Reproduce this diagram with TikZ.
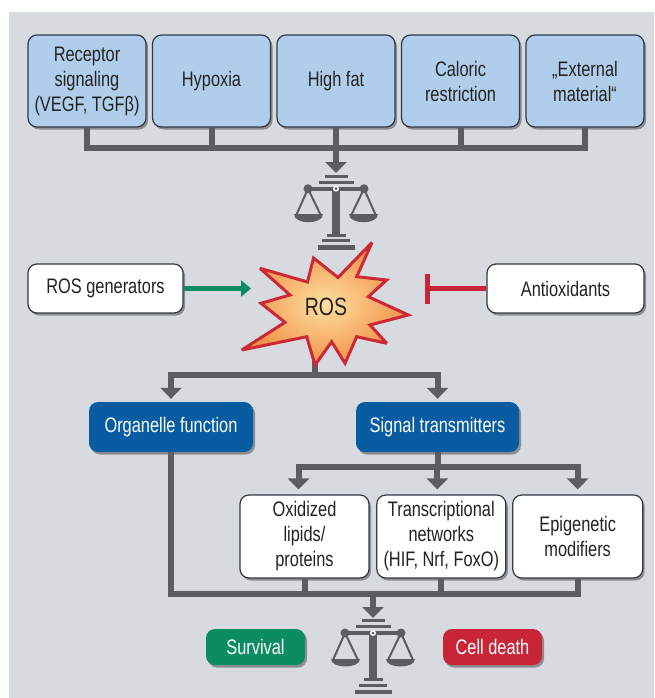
\documentclass[tikz,border=0pt]{standalone}
\usepackage{fontspec}
\setmainfont{Liberation Sans}[FakeStretch=0.78]
\usetikzlibrary{arrows.meta,shadows}
\definecolor{bgc}{RGB}{215,218,222}
\definecolor{lc}{RGB}{90,94,99}
\definecolor{lightblue}{RGB}{176,206,236}
\definecolor{boxline}{RGB}{50,58,70}
\definecolor{darkblue}{RGB}{8,92,162}
\definecolor{okgreen}{RGB}{12,140,98}
\definecolor{badred}{RGB}{200,38,56}
\definecolor{starred}{RGB}{205,40,55}
\definecolor{textdark}{RGB}{35,35,35}
\tikzset{
  basebox/.style={rounded corners=9pt, align=center, inner sep=0pt,
    font=\fontsize{21}{25}\selectfont,
    drop shadow={shadow xshift=2pt, shadow yshift=-2.5pt, opacity=0.35, fill=black}},
  topbox/.style={basebox, draw=boxline, line width=1.2pt, fill=lightblue, text=textdark,
    minimum width=118pt, minimum height=92pt},
  whitebox/.style={basebox, draw=boxline, line width=1.2pt, fill=white, text=textdark},
  bluebox/.style={basebox, fill=darkblue, text=white, minimum width=163pt, minimum height=50pt},
  outbox/.style={basebox, text=white, minimum width=99pt, minimum height=36pt},
  conn/.style={draw=lc, line width=6pt, line join=miter, line cap=butt},
  arr/.style={conn, -{Triangle[length=11pt,width=21pt]}},
  balance/.pic={
    \fill[lc] (-11.5,-14) rectangle (11.5,-11);
    \fill[lc] (-17.5,-8) rectangle (17.5,-5.2);
    \fill[lc] (-28,-2) rectangle (28,2);
    \fill[lc] (-28,0) circle[radius=4.5pt];
    \fill[lc] (28,0) circle[radius=4.5pt];
    \fill[lc] (-4,0) rectangle (4,46);
    \draw[lc, line width=2pt] (-15,27) -- (-28,0) -- (-40,27);
    \draw[lc, line width=2pt] (15,27) -- (28,0) -- (40,27);
    \fill[lc] (-42,25.5) .. controls (-42,36) and (-13,36) .. (-13,25.5) -- cycle;
    \fill[lc] (13,25.5) .. controls (13,36) and (42,36) .. (42,25.5) -- cycle;
    \fill[lc] (-9.5,45) rectangle (9.5,48);
    \fill[lc] (-14,50.5) rectangle (14,53.5);
    \fill[lc] (-18.5,56.5) rectangle (18.5,61);
    \fill[white] (0,0) circle[radius=3pt];
    \fill[lc] (0,0) circle[radius=1.5pt];
  }
}
\begin{document}
\begin{tikzpicture}[x=1pt,y=-1pt]
\useasboundingbox (0,0) rectangle (654,698);
\fill[white] (0,0) rectangle (654,698);
\fill[bgc] (9,12) rectangle (654,698);

% top boxes
\node[topbox] (b1) at (87,81) {Receptor\\signaling\\(VEGF, TGFβ)};
\node[topbox] (b2) at (211.5,81) {Hypoxia};
\node[topbox] (b3) at (336,81) {High fat};
\node[topbox] (b4) at (460.5,81) {Caloric\\restriction};
\node[topbox] (b5) at (585,81) {„External\\material“};

\coordinate (hub1) at (336,148);
\coordinate (bal1tip) at (336,173);
\draw[conn] (b1.south) |- (hub1);
\draw[conn] (b5.south) |- (hub1);
\draw[conn] (b2.south) -- (b2.south |- hub1);
\draw[conn] (b4.south) -- (b4.south |- hub1);
\draw[conn] (b3.south) -- (hub1);
\draw[arr] (hub1) -- (bal1tip);
\pic at (336,188.7) {balance};

% ROS row
\node[whitebox, minimum width=155pt, minimum height=49pt] (gen) at (105.5,288.5) {ROS generators};
\node[whitebox, minimum width=157pt, minimum height=49pt] (anti) at (565.5,288.5) {Antioxidants};
\coordinate (rosin) at (251,288.5);
\coordinate (rosblock) at (425,288.5);
\draw[draw=okgreen, line width=5pt, -{Triangle[length=10pt,width=16pt]}] (gen.east) -- (rosin);
\draw[draw=badred, line width=5pt, -{Bar[width=30pt]}] (anti.west) -- (rosblock);

% fork from ROS
\coordinate (rosout) at (315,340);
\coordinate (hub2) at (315,375);
\node[bluebox, minimum width=164pt] (org) at (171,427) {Organelle function};
\node[bluebox] (sig) at (437.5,427) {Signal transmitters};
\draw[conn] (rosout) -- (hub2);
\draw[arr] (hub2) -| ([yshift=3pt]org.north);
\draw[arr] (hub2) -| ([yshift=3pt]sig.north);

% star
\shadedraw[draw=starred, line width=3pt, line join=miter, miter limit=3,
  inner color={rgb,255:red,254;green,224;blue,160}, outer color={rgb,255:red,240;green,145;blue,72}]
  (372,242.5) -- (356.7,276.7) -- (386.7,280) -- (368.3,296.7) -- (408.3,315)
  -- (370,325) -- (386.7,343.3) -- (356.7,336.7) -- (345,363.3) -- (331.7,341.7)
  -- (315,365) -- (306.7,336.7) -- (241.7,350) -- (285,322.3) -- (261,303.3)
  -- (290,295) -- (260,268.3) -- (307.5,282) -- (313.5,258) -- (338,277.5) -- cycle;
\node[font=\fontsize{25}{28}\selectfont, text=textdark] (ros) at (326,307) {ROS};

% children
\node[whitebox, minimum width=129pt, minimum height=83pt] (ox) at (304.5,536.5) {Oxidized\\lipids/\\proteins};
\node[whitebox, minimum width=129pt, minimum height=83pt] (tr) at (441.3,536.5) {Transcriptional\\networks\\(HIF, Nrf, FoxO)};
\node[whitebox, minimum width=130pt, minimum height=83pt] (epi) at (577.7,536.5) {Epigenetic\\modifiers};
\coordinate (hub3) at (437.5,467);
\draw[conn] (sig.south) -- (hub3);
\draw[arr] (hub3) -| ([xshift=-6pt,yshift=5pt]ox.north);
\draw[arr] (hub3) -| ([xshift=-4pt,yshift=5pt]tr.north);
\draw[arr] (hub3) -| ([yshift=5pt]epi.north);

% bottom merge
\coordinate (hub4) at (373,594);
\coordinate (bal2tip) at (373,618);
\draw[conn] (org.south) |- (hub4);
\draw[conn] (epi.south) |- (hub4);
\draw[conn] (ox.south) -- (ox.south |- hub4);
\draw[conn] (tr.south) -- (tr.south |- hub4);
\draw[arr] (hub4) -- (bal2tip);
\pic at (373,633) {balance};

\node[outbox, fill=okgreen] (surv) at (255.5,647) {Survival};
\node[outbox, fill=badred] (death) at (492.5,647) {Cell death};
\end{tikzpicture}
\end{document}
